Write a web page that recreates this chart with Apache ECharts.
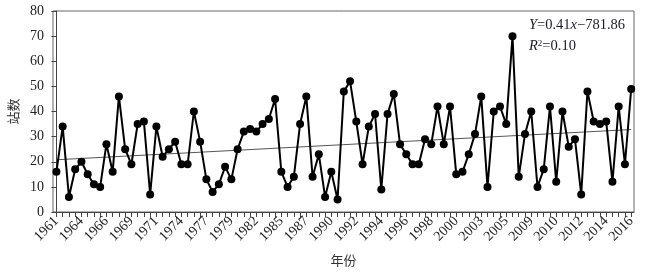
<!DOCTYPE html>
<html>
<head>
<meta charset="utf-8">
<script src="https://cdn.jsdelivr.net/npm/echarts@6/dist/echarts.min.js"></script>
<style>
html,body{margin:0;padding:0;background:#fff;}
#c{width:648px;height:272px;}
</style>
</head>
<body>
<div id="c"></div>
<script>
// Tick labels shown on the x axis (one every 4 points)
const tickLabels = ['1961','1964','1966','1969','1971','1974','1977','1979','1982','1985','1987','1990',
  '1992','1994','1996','1998','2000','2003','2005','2009','2010','2012','2014','2016'];
// Station counts (93 points)
const values = [
  16,34,6,17,20,15,11,10,27,16,
  46,25,19,35,36,7,34,22,25,28,
  19,19,40,28,13,8,11,18,13,25,
  32,33,32,35,37,45,16,10,14,35,
  46,14,23,6,16,5,48,52,36,19,
  34,39,9,39,47,27,23,19,19,29,
  27,42,27,42,15,16,23,31,46,10,
  40,42,35,70,14,31,40,10,17,42,
  12,40,26,29,7,48,36,35,36,12,
  42,19,49
];
const yTicks = [0,10,20,30,40,50,60,70,80];
const eqLine1 = '{i|Y}{n|=0.41}{i|x}{n|\u2212781.86}';
const eqLine2 = '{i|R}{s|2}{n|=0.10}';

const n = values.length;
const pts = values.map((v, i) => [i, v]);
// least squares trend
let sx=0, sy=0, sxx=0, sxy=0;
values.forEach((v,i)=>{sx+=i; sy+=v; sxx+=i*i; sxy+=i*v;});
const b = (n*sxy - sx*sy)/(n*sxx - sx*sx);
const a = (sy - b*sx)/n;
const trend = [[0, a], [n-1, a + b*(n-1)]];

const tickVals = values.map((v,i)=>i);
const labelVals = tickLabels.map((t,k)=>k*4);

const serif = 'Liberation Serif, Times New Roman, serif';
const chart = echarts.init(document.getElementById('c'));
chart.setOption({
  animation: false,
  grid: {left: 53, right: 14, top: 11, bottom: 60, outerBoundsMode: 'none', containLabel: false,
    show: true, borderColor: '#666', borderWidth: 1, backgroundColor: 'transparent'},
  xAxis: {
    type: 'value', min: -0.55, max: n - 1 + 0.45,
    name: '年份', nameLocation: 'middle', nameGap: 42,
    nameTextStyle: {fontFamily: 'Noto Sans CJK SC', fontSize: 13, color: '#333'},
    splitLine: {show: false},
    axisLine: {show: true, lineStyle: {color: '#444', width: 1}},
    axisTick: {show: true, length: 5, customValues: tickVals, lineStyle: {color: '#444'}},
    axisLabel: {
      customValues: labelVals, rotate: 45, margin: 7,
      fontFamily: serif, fontSize: 14, color: '#222',
      formatter: function (v) { return tickLabels[Math.round(v/4)] || ''; }
    }
  },
  yAxis: {
    type: 'value', min: 0, max: 80, interval: 10,
    name: '站数', nameLocation: 'middle', nameGap: 28, nameRotate: 90,
    nameTextStyle: {fontFamily: 'Noto Sans CJK SC', fontSize: 13, color: '#333'},
    splitLine: {show: false},
    axisLine: {show: true, lineStyle: {color: '#444', width: 1}},
    axisTick: {show: true, length: 5, lineStyle: {color: '#444'}},
    axisLabel: {fontFamily: serif, fontSize: 14, color: '#222', margin: 9,
      formatter: function(v){ return yTicks.indexOf(v) >= 0 ? String(v) : ''; }}
  },
  series: [
    {
      type: 'line', data: pts, symbol: 'circle', symbolSize: 8,
      itemStyle: {color: '#000'}, lineStyle: {color: '#000', width: 2}, z: 3
    },
    {
      type: 'line', data: trend, symbol: 'none',
      lineStyle: {color: '#555', width: 1}, z: 2
    }
  ],
  graphic: [
    {type: 'text', left: 529, top: 18, style: {text: eqLine1, rich: {
      i: {fontFamily: serif, fontStyle: 'italic', fontSize: 14.5, fill: '#1a1a2e'},
      n: {fontFamily: serif, fontSize: 14.5, fill: '#1a1a2e'}
    }}},
    {type: 'text', left: 529, top: 39, style: {text: eqLine2, rich: {
      i: {fontFamily: serif, fontStyle: 'italic', fontSize: 14.5, fill: '#1a1a2e'},
      s: {fontFamily: serif, fontSize: 9, fill: '#1a1a2e', verticalAlign: 'top', padding: [0,0,6,0]},
      n: {fontFamily: serif, fontSize: 14.5, fill: '#1a1a2e'}
    }}}
  ]
});
</script>
</body>
</html>
